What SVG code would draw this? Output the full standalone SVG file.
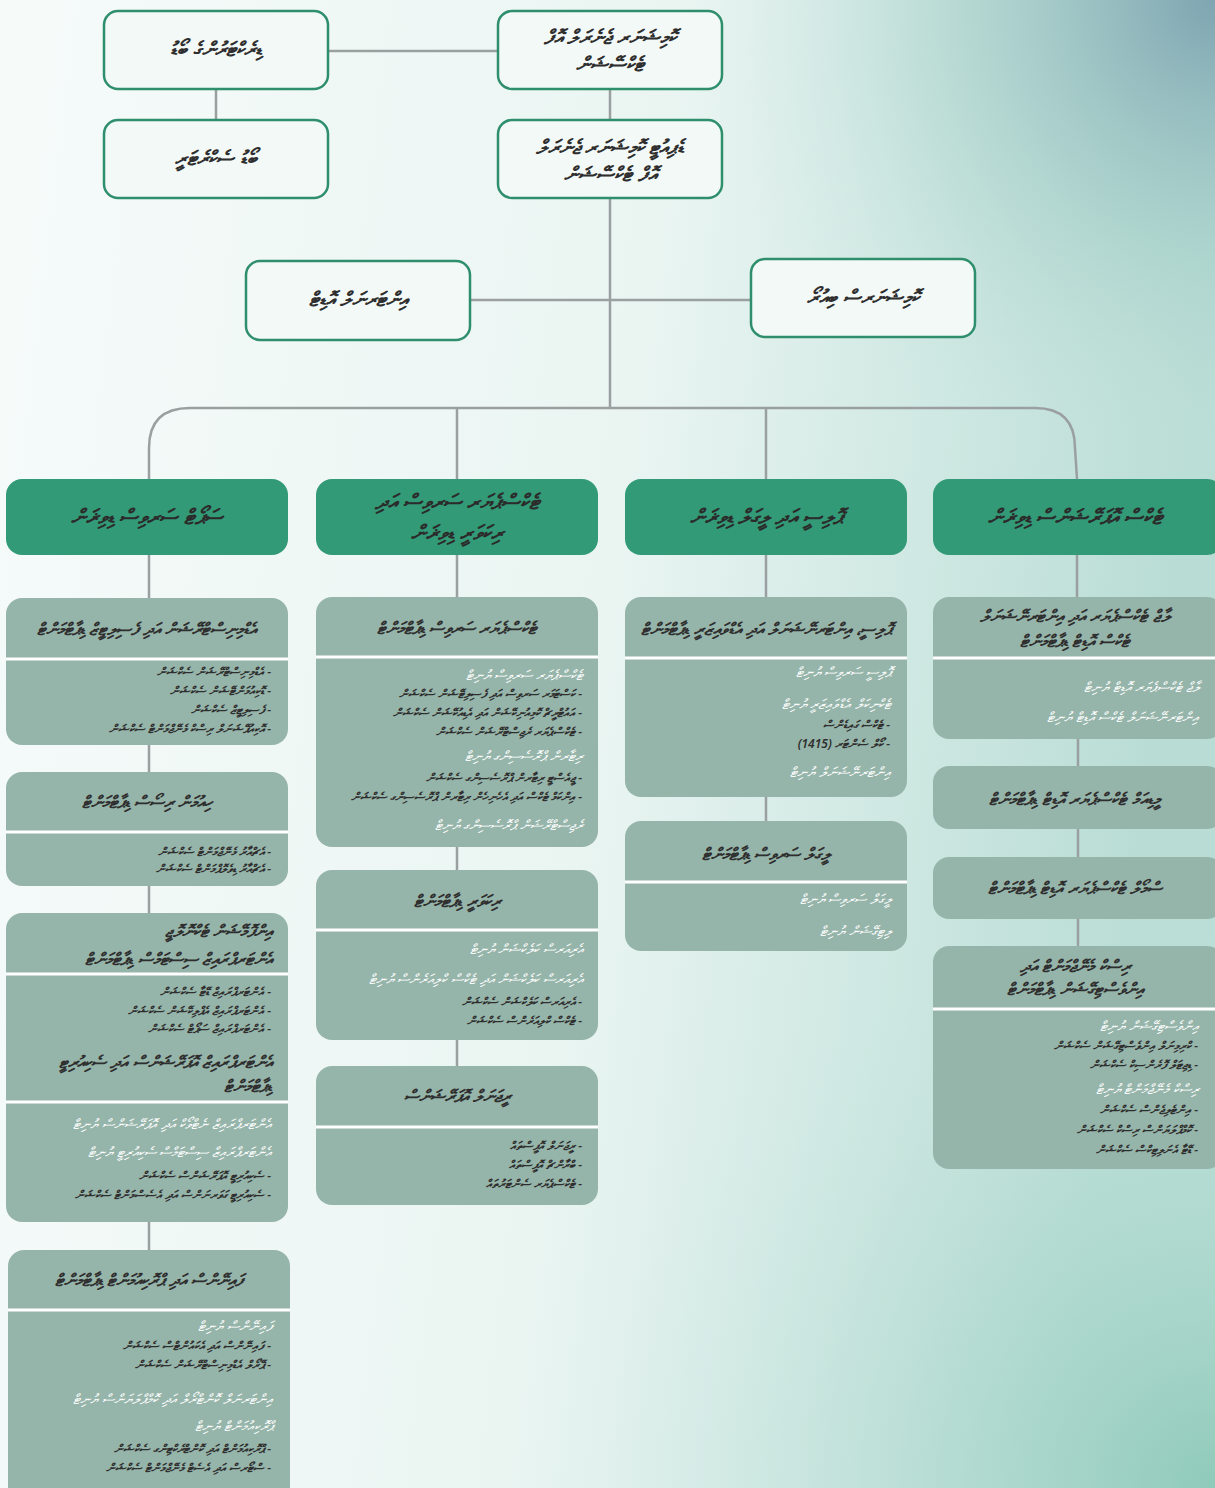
<svg xmlns="http://www.w3.org/2000/svg" width="1215" height="1488" viewBox="0 0 1215 1488">
<defs>
<linearGradient id="bg" x1="0" y1="0" x2="1" y2="0.15">
<stop offset="0" stop-color="#f6fbfa"/>
<stop offset="0.55" stop-color="#eaf5f2"/>
<stop offset="1" stop-color="#b9ddd5"/>
</linearGradient>
<radialGradient id="tr" cx="1215" cy="0" r="520" gradientUnits="userSpaceOnUse">
<stop offset="0" stop-color="#7ea5b1" stop-opacity="1"/>
<stop offset="0.5" stop-color="#a6cfc9" stop-opacity="0.6"/>
<stop offset="1" stop-color="#cfe9e3" stop-opacity="0"/>
</radialGradient>
<radialGradient id="br" cx="1215" cy="1488" r="620" gradientUnits="userSpaceOnUse">
<stop offset="0" stop-color="#8fcab9" stop-opacity="1"/>
<stop offset="1" stop-color="#cfe9e3" stop-opacity="0"/>
</radialGradient>
<style>
.top{fill:#f3f9f7;stroke:#2f8f6d;stroke-width:2.5}
.hdr{fill:#329a76}
.sec{fill:#96b5aa}
.dv{stroke:#ffffff;stroke-width:3}
.conn{stroke:#9a9fa0;stroke-width:2.5;fill:none}
text{font-family:"Noto Sans","DejaVu Sans",sans-serif;direction:rtl;font-style:italic}
.tt{font-size:20px;font-weight:700;fill:#2e2e2e;text-anchor:middle}
.ht{font-size:21px;font-weight:700;fill:#2b2b2b;text-anchor:middle}
.st{font-size:17px;font-weight:700;fill:#2e2e2e;text-anchor:middle}
.sr{font-size:17px;font-weight:700;fill:#2e2e2e;text-anchor:start}
.it{font-size:12px;font-weight:600;fill:#2e2e2e;text-anchor:start}
.un{font-size:14px;fill:#ffffff;text-anchor:start}
</style>
</defs>
<rect width="1215" height="1488" fill="url(#bg)"/>
<rect width="1215" height="1488" fill="url(#tr)"/>
<rect width="1215" height="1488" fill="url(#br)"/>

<g id="connectors">
<line class="conn" x1="328" y1="51" x2="498" y2="51"/>
<line class="conn" x1="216" y1="89" x2="216" y2="120"/>
<line class="conn" x1="610" y1="89" x2="610" y2="120"/>
<line class="conn" x1="610" y1="198" x2="610" y2="408"/>
<line class="conn" x1="470" y1="300" x2="751" y2="300"/>
<path class="conn" d="M149,479 L149,448 Q149,408 190,408 L1035,408 Q1075,408 1075,448 L1077,479"/>
<line class="conn" x1="457" y1="408" x2="457" y2="479"/>
<line class="conn" x1="766" y1="408" x2="766" y2="479"/>
<line class="conn" x1="149" y1="555" x2="149" y2="598"/>
<line class="conn" x1="457" y1="555" x2="457" y2="597"/>
<line class="conn" x1="766" y1="555" x2="766" y2="597"/>
<line class="conn" x1="1077" y1="555" x2="1077" y2="597"/>
<line class="conn" x1="149" y1="745" x2="149" y2="772"/>
<line class="conn" x1="149" y1="886" x2="149" y2="913"/>
<line class="conn" x1="149" y1="1222" x2="149" y2="1250"/>
<line class="conn" x1="457" y1="847" x2="457" y2="870"/>
<line class="conn" x1="457" y1="1040" x2="457" y2="1066"/>
<line class="conn" x1="766" y1="797" x2="766" y2="821"/>
<line class="conn" x1="1078" y1="739" x2="1078" y2="766"/>
<line class="conn" x1="1078" y1="829" x2="1078" y2="857"/>
<line class="conn" x1="1078" y1="919" x2="1078" y2="946"/>
</g>

<g id="board">
<rect class="top" x="104" y="11" width="224" height="78" rx="14"/>
<text class="tt" x="216" y="56">ޑިރެކްޓަރުންގެ ބޯޑު</text>
</g>
<g id="board-secretary">
<rect class="top" x="104" y="120" width="224" height="78" rx="14"/>
<text class="tt" x="216" y="165">ބޯޑު ސެކްރެޓަރީ</text>
</g>
<g id="cg">
<rect class="top" x="498" y="11" width="224" height="78" rx="14"/>
<text class="tt" x="610" y="44">ކޮމިޝަނަރ ޖެނެރަލް އޮފް</text>
<text class="tt" x="610" y="71">ޓެކްސޭޝަން</text>
</g>
<g id="dcg">
<rect class="top" x="498" y="120" width="224" height="78" rx="14"/>
<text class="tt" x="610" y="154">ޑެޕިއުޓީ ކޮމިޝަނަރ ޖެނެރަލް</text>
<text class="tt" x="610" y="181">އޮފް ޓެކްސޭޝަން</text>
</g>
<g id="internal-audit">
<rect class="top" x="246" y="261" width="224" height="79" rx="14"/>
<text class="tt" x="358" y="306">އިންޓަރނަލް އޮޑިޓް</text>
</g>
<g id="bureau">
<rect class="top" x="751" y="259" width="224" height="78" rx="14"/>
<text class="tt" x="863" y="304">ކޮމިޝަނަރސް ބިއުރޯ</text>
</g>

<g id="div-support">
<rect class="hdr" x="6" y="479" width="282" height="76" rx="16"/>
<text class="ht" x="147" y="524">ސަޕޯޓް ސަރވިސް ޑިވިޜަން</text>
</g>
<g id="div-taxpayer">
<rect class="hdr" x="316" y="479" width="282" height="76" rx="16"/>
<text class="ht" x="457" y="509">ޓެކްސްޕެޔަރ ސަރވިސް އަދި</text>
<text class="ht" x="457" y="540">ރިކަވަރީ ޑިވިޜަން</text>
</g>
<g id="div-policy">
<rect class="hdr" x="625" y="479" width="282" height="76" rx="16"/>
<text class="ht" x="766" y="524">ޕޮލިސީ އަދި ލީގަލް ޑިވިޜަން</text>
</g>
<g id="div-audit">
<rect class="hdr" x="933" y="479" width="290" height="76" rx="16"/>
<text class="ht" x="1075" y="524">ޓެކްސް އޮޕަރޭޝަންސް ޑިވިޜަން</text>
</g>

<g id="c1-admin">
<rect class="sec" x="6" y="598" width="282" height="147" rx="16"/>
<line class="dv" x1="6" y1="659" x2="288" y2="659"/>
<text class="st" x="147" y="635">އެޑްމިނިސްޓްރޭޝަން އަދި ފެސިލިޓީޒް ޑިޕާޓްމަންޓް</text>
<text class="it" x="271" y="676">- އެޑްމިނިސްޓްރޭޝަން ސެކްޝަން</text>
<text class="it" x="271" y="695">- ޑޮކިއުމަންޓޭޝަން ސެކްޝަން</text>
<text class="it" x="271" y="714">- ފެސިލިޓީޒް ސެކްޝަން</text>
<text class="it" x="271" y="733">- އޮކިއުޕޭޝަނަލް ރިސްކް މެނޭޖްމަންޓް ސެކްޝަން</text>
</g>
<g id="c1-hr">
<rect class="sec" x="6" y="772" width="282" height="114" rx="16"/>
<line class="dv" x1="6" y1="832" x2="288" y2="832"/>
<text class="st" x="147" y="808">ހިއުމަން ރިސޯސް ޑިޕާޓްމަންޓް</text>
<text class="it" x="271" y="856">- އެޗްއާރު މެނޭޖްމަންޓް ސެކްޝަން</text>
<text class="it" x="271" y="873">- އެޗްއާރު ޑިވެލޮޕްމަންޓް ސެކްޝަން</text>
</g>
<g id="c1-it">
<rect class="sec" x="6" y="913" width="282" height="309" rx="16"/>
<line class="dv" x1="6" y1="974" x2="288" y2="974"/>
<line class="dv" x1="6" y1="1102" x2="288" y2="1102"/>
<text class="sr" x="272" y="937">އިންފޮމޭޝަން ޓެކްނޮލޮޖީ</text>
<text class="sr" x="272" y="965">އެންޓަރޕްރައިޒް ސިސްޓަމްސް ޑިޕާޓްމަންޓް</text>
<text class="it" x="271" y="996">- އެންޓަރޕްރައިޒް ޑޭޓާ ސެކްޝަން</text>
<text class="it" x="271" y="1015">- އެންޓަރޕްރައިޒް އެޕްލިކޭޝަން ސެކްޝަން</text>
<text class="it" x="271" y="1033">- އެންޓަރޕްރައިޒް ސަޕޯޓް ސެކްޝަން</text>
<text class="sr" x="272" y="1068">އެންޓަރޕްރައިޒް އޮޕަރޭޝަންސް އަދި ސެކިއުރިޓީ</text>
<text class="sr" x="272" y="1092">ޑިޕާޓްމަންޓް</text>
<text class="un" x="272" y="1129">އެންޓަރޕްރައިޒް ނެޓްވޯކް އަދި އޮޕަރޭޝަންސް ޔުނިޓް</text>
<text class="un" x="272" y="1157">އެންޓަރޕްރައިޒް ސިސްޓަމްސް ސެކިއުރިޓީ ޔުނިޓް</text>
<text class="it" x="271" y="1180">- ސެކިއުރިޓީ އޮޕަރޭޝަންސް ސެކްޝަން</text>
<text class="it" x="271" y="1199">- ސެކިއުރިޓީ ގަވަރނަންސް އަދި އެސެސްމަންޓް ސެކްޝަން</text>
</g>
<g id="c1-finance">
<rect class="sec" x="8" y="1250" width="282" height="260" rx="16"/>
<line class="dv" x1="8" y1="1310" x2="290" y2="1310"/>
<text class="st" x="149" y="1286">ފައިނޭންސް އަދި ޕްރޮކިއުމަންޓް ޑިޕާޓްމަންޓް</text>
<text class="un" x="273" y="1331">ފައިނޭންސް ޔުނިޓް</text>
<text class="it" x="271" y="1350">- ފައިނޭންސް އަދި އެކައުންޓްސް ސެކްޝަން</text>
<text class="it" x="271" y="1369">- ޕޭރޯލް އެޑްމިނިސްޓްރޭޝަން ސެކްޝަން</text>
<text class="un" x="273" y="1404">އިންޓަރނަލް ކޮންޓްރޯލް އަދި ކޮމްޕްލަޔަންސް ޔުނިޓް</text>
<text class="un" x="273" y="1431">ޕްރޮކިއުމަންޓް ޔުނިޓް</text>
<text class="it" x="271" y="1453">- ޕްރޮކިއުމަންޓް އަދި ކޮންޓްރެކްޓިންގ ސެކްޝަން</text>
<text class="it" x="271" y="1472">- ސްޓޯރސް އަދި އެސެޓް މެނޭޖްމަންޓް ސެކްޝަން</text>
</g>

<g id="c2-taxpayer">
<rect class="sec" x="316" y="597" width="282" height="250" rx="16"/>
<line class="dv" x1="316" y1="657" x2="598" y2="657"/>
<text class="st" x="457" y="634">ޓެކްސްޕެޔަރ ސަރވިސް ޑިޕާޓްމަންޓް</text>
<text class="un" x="583" y="680">ޓެކްސްޕެޔަރ ސަރވިސް ޔުނިޓް</text>
<text class="it" x="582" y="698">- ކަސްޓަމަރ ސަރވިސް އަދި ފެސިލިޓޭޝަން ސެކްޝަން</text>
<text class="it" x="582" y="717">- އައުޓްރީޗް ކޮމިއުނިކޭޝަން އަދި އެޑިއުކޭޝަން ސެކްޝަން</text>
<text class="it" x="582" y="736">- ޓެކްސްޕެޔަރ ރެޖިސްޓްރޭޝަން ސެކްޝަން</text>
<text class="un" x="583" y="761">ރިޓާރން ޕްރޮސެސިންގ ޔުނިޓް</text>
<text class="it" x="582" y="782">- ޖީއެސްޓީ ރިޓާރން ޕްރޮސެސިންގ ސެކްޝަން</text>
<text class="it" x="582" y="801">- އިންކަމް ޓެކްސް އަދި އެހެނިހެން ރިޓާރން ޕްރޮސެސިންގ ސެކްޝަން</text>
<text class="un" x="583" y="830">ރެޖިސްޓްރޭޝަން ޕްރޮސެސިންގ ޔުނިޓް</text>
</g>
<g id="c2-recovery">
<rect class="sec" x="316" y="870" width="282" height="170" rx="16"/>
<line class="dv" x1="316" y1="930" x2="598" y2="930"/>
<text class="st" x="457" y="907">ރިކަވަރީ ޑިޕާޓްމަންޓް</text>
<text class="un" x="583" y="954">އެރިއަރސް ކަލެކްޝަން ޔުނިޓް</text>
<text class="un" x="583" y="984">އެރިއަރސް ކަލެކްޝަން އަދި ޓެކްސް ކްލިއަރެންސް ޔުނިޓް</text>
<text class="it" x="582" y="1006">- އެރިއަރސް ކަލެކްޝަން ސެކްޝަން</text>
<text class="it" x="582" y="1025">- ޓެކްސް ކްލިއަރެންސް ސެކްޝަން</text>
</g>
<g id="c2-regional">
<rect class="sec" x="316" y="1066" width="282" height="139" rx="16"/>
<line class="dv" x1="316" y1="1127" x2="598" y2="1127"/>
<text class="st" x="457" y="1102">ރީޖަނަލް އޮޕަރޭޝަންސް</text>
<text class="it" x="582" y="1150">- ރީޖަނަލް އޮފީސްތައް</text>
<text class="it" x="582" y="1169">- ބްރާންޗް އޮފީސްތައް</text>
<text class="it" x="582" y="1188">- ޓެކްސްޕެޔަރ ސެންޓަރުތައް</text>
</g>

<g id="c3-policy">
<rect class="sec" x="625" y="597" width="282" height="200" rx="16"/>
<line class="dv" x1="625" y1="658" x2="907" y2="658"/>
<text class="st" x="766" y="635">ޕޮލިސީ، އިންޓަރނޭޝަނަލް އަދި އެޑްވައިޒަރީ ޑިޕާޓްމަންޓް</text>
<text class="un" x="891" y="677">ޕޮލިސީ ސަރވިސް ޔުނިޓް</text>
<text class="un" x="891" y="709">ޓެކްނިކަލް އެޑްވައިޒަރީ ޔުނިޓް</text>
<text class="it" x="890" y="729">- ޓެކްސް ގައިޑެންސް</text>
<text class="it" x="890" y="748">- ކޯލް ސެންޓަރ (1415)</text>
<text class="un" x="891" y="777">އިންޓަރނޭޝަނަލް ޔުނިޓް</text>
</g>
<g id="c3-legal">
<rect class="sec" x="625" y="821" width="282" height="130" rx="16"/>
<line class="dv" x1="625" y1="882" x2="907" y2="882"/>
<text class="st" x="766" y="860">ލީގަލް ސަރވިސް ޑިޕާޓްމަންޓް</text>
<text class="un" x="891" y="904">ލީގަލް ސަރވިސް ޔުނިޓް</text>
<text class="un" x="891" y="936">ލިޓިގޭޝަން ޔުނިޓް</text>
</g>

<g id="c4-large">
<rect class="sec" x="933" y="597" width="290" height="142" rx="16"/>
<line class="dv" x1="933" y1="658" x2="1215" y2="658"/>
<text class="st" x="1075" y="622">ލާޖް ޓެކްސްޕެޔަރ އަދި އިންޓަރނޭޝަނަލް</text>
<text class="st" x="1075" y="647">ޓެކްސް އޮޑިޓް ޑިޕާޓްމަންޓް</text>
<text class="un" x="1199" y="692">ލާޖް ޓެކްސްޕެޔަރ އޮޑިޓް ޔުނިޓް</text>
<text class="un" x="1199" y="722">އިންޓަރނޭޝަނަލް ޓެކްސް އޮޑިޓް ޔުނިޓް</text>
</g>
<g id="c4-medium">
<rect class="sec" x="933" y="766" width="290" height="63" rx="16"/>
<text class="st" x="1075" y="805">މީޑިއަމް ޓެކްސްޕެޔަރ އޮޑިޓް ޑިޕާޓްމަންޓް</text>
</g>
<g id="c4-small">
<rect class="sec" x="933" y="857" width="290" height="62" rx="16"/>
<text class="st" x="1075" y="894">ސްމޯލް ޓެކްސްޕެޔަރ އޮޑިޓް ޑިޕާޓްމަންޓް</text>
</g>
<g id="c4-risk">
<rect class="sec" x="933" y="946" width="290" height="223" rx="16"/>
<line class="dv" x1="933" y1="1009" x2="1215" y2="1009"/>
<text class="st" x="1075" y="972">ރިސްކް މެނޭޖްމަންޓް އަދި</text>
<text class="st" x="1075" y="995">އިންވެސްޓިގޭޝަން ޑިޕާޓްމަންޓް</text>
<text class="un" x="1199" y="1031">އިންވެސްޓިގޭޝަން ޔުނިޓް</text>
<text class="it" x="1198" y="1050">- ކްރިމިނަލް އިންވެސްޓިގޭޝަން ސެކްޝަން</text>
<text class="it" x="1198" y="1069">- ޑިޖިޓަލް ފޮރެންސިކް ސެކްޝަން</text>
<text class="un" x="1199" y="1094">ރިސްކް މެނޭޖްމަންޓް ޔުނިޓް</text>
<text class="it" x="1198" y="1114">- އިންޓެލިޖެންސް ސެކްޝަން</text>
<text class="it" x="1198" y="1134">- ކޮމްޕްލަޔަންސް ރިސްކް ސެކްޝަން</text>
<text class="it" x="1198" y="1154">- ޑޭޓާ އެނަލިޓިކްސް ސެކްޝަން</text>
</g>
</svg>
